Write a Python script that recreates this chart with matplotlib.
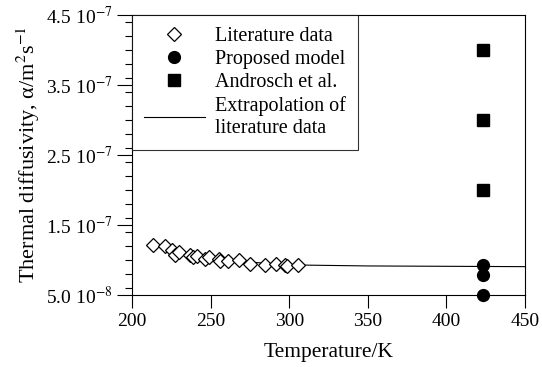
import numpy as np
import matplotlib.pyplot as plt
from matplotlib.ticker import FixedLocator, MultipleLocator

plt.rcParams['font.family'] = ['Liberation Serif', 'DejaVu Serif']
plt.rcParams['mathtext.fontset'] = 'stix'

# literature data (diamonds)
lit_T = [213.6, 221, 225.2, 227.3, 230, 236.9, 239, 241.5, 246.4, 249.1,
         255.3, 256, 261.3, 268, 275, 284.6, 291.6, 297.3, 298.4, 305.8]
lit_a = [1.21e-7, 1.20e-7, 1.14e-7, 1.07e-7, 1.12e-7, 1.07e-7, 1.04e-7, 1.06e-7, 1.01e-7, 1.04e-7,
         1.02e-7, 0.98e-7, 0.98e-7, 1.00e-7, 0.95e-7, 0.93e-7, 0.94e-7, 0.93e-7, 0.91e-7, 0.925e-7]

# proposed model (circles)
model_T = [423, 423, 423]
model_a = [9.3e-8, 7.9e-8, 5.0e-8]

# Androsch et al. (squares)
andr_T = [423, 423, 423]
andr_a = [4.0e-7, 3.0e-7, 2.0e-7]

# extrapolation of literature data
ext_T = [213, 230, 250, 275, 300, 350, 400, 450]
ext_a = [1.21e-7, 1.12e-7, 1.04e-7, 0.97e-7, 0.93e-7, 0.915e-7, 0.91e-7, 0.905e-7]

ytick_vals = [5.0e-8, 1.5e-7, 2.5e-7, 3.5e-7, 4.5e-7]
ytick_labels = ['5.0 10$^{-8}$', '1.5 10$^{-7}$', '2.5 10$^{-7}$', '3.5 10$^{-7}$', '4.5 10$^{-7}$']

fig = plt.figure(figsize=(5.42, 3.67), dpi=100)
ax = fig.add_axes([132/542, 1-295/367, 393/542, 280/367])

ax.plot(ext_T, ext_a, color='black', lw=0.8, label='Extrapolation of\nliterature data', zorder=1)
ax.plot(lit_T, lit_a, 'D', mfc='white', mec='black', ms=7, mew=0.9, ls='none',
        label='Literature data', zorder=2)
ax.plot(model_T, model_a, 'o', color='black', ms=8.5, ls='none', label='Proposed model',
        clip_on=False, zorder=3)
ax.plot(andr_T, andr_a, 's', color='black', ms=8, ls='none', label='Androsch et al.', zorder=3)

ax.set_xlim(200, 450)
ax.set_ylim(5.0e-8, 4.5e-7)
ax.set_xticks([200, 250, 300, 350, 400, 450])
ax.yaxis.set_major_locator(FixedLocator(ytick_vals))
ax.set_yticklabels(ytick_labels)
ax.yaxis.set_minor_locator(MultipleLocator(2e-8))

ax.tick_params(axis='x', direction='out', length=9, width=0.8, labelsize=14, pad=4)
ax.tick_params(axis='y', which='major', direction='out', length=11, width=0.8, labelsize=14, pad=3)
ax.tick_params(axis='y', which='minor', direction='out', length=5, width=0.8)
for s in ax.spines.values():
    s.set_linewidth(0.8)

ax.set_xlabel('Temperature/K', fontsize=15.5, labelpad=9)
ax.set_ylabel('Thermal diffusivity, α/m$^2$s$^{-1}$', fontsize=16, labelpad=3)

h, l = ax.get_legend_handles_labels()
order = [1, 2, 3, 0]
leg = ax.legend([h[i] for i in order], [l[i] for i in order], loc='upper left',
                bbox_to_anchor=(0, 1), borderaxespad=0, prop={'size': 14.5}, frameon=True,
                fancybox=False, edgecolor='black', labelspacing=0.2, handlelength=3.0,
                handletextpad=0.5, borderpad=0.6)
leg.get_frame().set_linewidth(0.8)

fig.savefig('out.png', dpi=100)
